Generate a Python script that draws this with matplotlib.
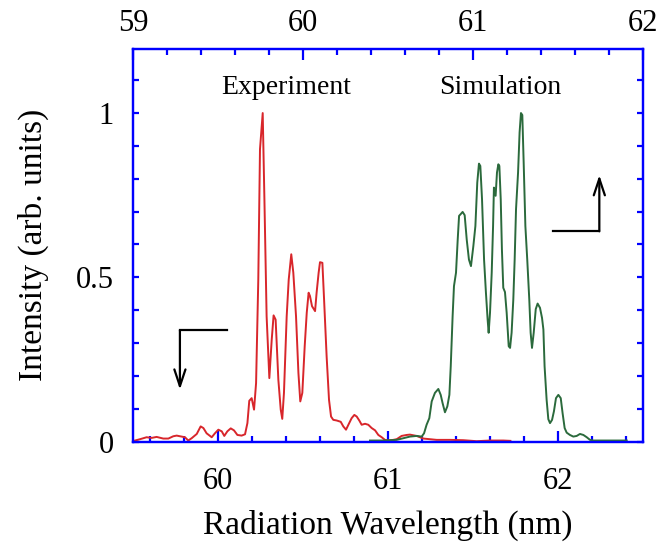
import matplotlib
matplotlib.use("Agg")
import matplotlib.pyplot as plt
from matplotlib.ticker import MultipleLocator

plt.rcParams['font.family'] = ['Liberation Serif', 'DejaVu Serif']

# experiment, bottom axis (nm)
exp_wl = [59.512, 59.541, 59.580, 59.610, 59.639, 59.678, 59.708, 59.737, 59.757, 59.786,
          59.806, 59.825, 59.845, 59.875, 59.898, 59.914, 59.933, 59.963, 59.982, 60.002,
          60.022, 60.037, 60.055, 60.075, 60.094, 60.114, 60.139, 60.159, 60.173, 60.184,
          60.198, 60.212, 60.224, 60.237, 60.247, 60.263, 60.273, 60.286, 60.302, 60.316,
          60.327, 60.339, 60.355, 60.369, 60.378, 60.388, 60.404, 60.416, 60.431, 60.443,
          60.459, 60.473, 60.484, 60.496, 60.510, 60.522, 60.533, 60.541, 60.553, 60.571,
          60.580, 60.592, 60.600, 60.614, 60.624, 60.639, 60.653, 60.665, 60.678, 60.698,
          60.722, 60.737, 60.753, 60.767, 60.786, 60.802, 60.816, 60.831, 60.845, 60.865,
          60.884, 60.904, 60.924, 60.943, 60.963, 60.982, 61.002, 61.031, 61.051, 61.080,
          61.110, 61.129, 61.168, 61.208, 61.286, 61.365, 61.443, 61.521, 61.600, 61.678,
          61.720]
exp_int = [0.003, 0.007, 0.013, 0.011, 0.014, 0.009, 0.009, 0.016, 0.018, 0.015,
           0.013, 0.003, 0.010, 0.023, 0.046, 0.041, 0.025, 0.013, 0.025, 0.036,
           0.031, 0.017, 0.031, 0.040, 0.034, 0.020, 0.018, 0.022, 0.056, 0.124,
           0.132, 0.097, 0.178, 0.493, 0.890, 1.000, 0.738, 0.381, 0.193, 0.310,
           0.384, 0.371, 0.188, 0.097, 0.069, 0.148, 0.381, 0.493, 0.570, 0.514,
           0.381, 0.209, 0.122, 0.148, 0.290, 0.392, 0.453, 0.443, 0.412, 0.397,
           0.453, 0.514, 0.546, 0.544, 0.432, 0.259, 0.127, 0.076, 0.066, 0.064,
           0.060, 0.046, 0.036, 0.051, 0.071, 0.081, 0.076, 0.064, 0.051, 0.054,
           0.051, 0.041, 0.034, 0.020, 0.013, 0.005, 0.003, 0.005, 0.007, 0.017,
           0.020, 0.021, 0.017, 0.009, 0.005, 0.005, 0.004, 0.001, 0.003, 0.003,
           0.002]

# simulation, top axis (nm)
sim_wl = [60.394, 60.472, 60.551, 60.590, 60.629, 60.669, 60.698, 60.712, 60.727, 60.743,
          60.757, 60.776, 60.796, 60.810, 60.821, 60.835, 60.849, 60.861, 60.869, 60.880,
          60.888, 60.900, 60.910, 60.918, 60.927, 60.939, 60.951, 60.963, 60.976, 60.988,
          61.002, 61.014, 61.025, 61.035, 61.043, 61.053, 61.065, 61.076, 61.086, 61.092,
          61.100, 61.110, 61.118, 61.123, 61.133, 61.141, 61.149, 61.155, 61.163, 61.170,
          61.178, 61.188, 61.198, 61.210, 61.218, 61.227, 61.237, 61.245, 61.253, 61.265,
          61.274, 61.282, 61.290, 61.298, 61.308, 61.319, 61.331, 61.339, 61.347, 61.357,
          61.369, 61.380, 61.394, 61.406, 61.414, 61.421, 61.433, 61.443, 61.453, 61.465,
          61.476, 61.488, 61.502, 61.516, 61.527, 61.539, 61.551, 61.570, 61.590, 61.610,
          61.629, 61.649, 61.669, 61.688, 61.708, 61.747, 61.825, 61.904]
sim_int = [0.003, 0.003, 0.005, 0.010, 0.015, 0.017, 0.015, 0.025, 0.051, 0.071,
           0.122, 0.148, 0.160, 0.142, 0.117, 0.089, 0.107, 0.142, 0.229, 0.381,
           0.473, 0.514, 0.615, 0.687, 0.692, 0.699, 0.689, 0.615, 0.554, 0.534,
           0.595, 0.656, 0.788, 0.846, 0.839, 0.738, 0.554, 0.453, 0.371, 0.331,
           0.392, 0.514, 0.656, 0.773, 0.748, 0.819, 0.844, 0.839, 0.738, 0.585,
           0.468, 0.455, 0.392, 0.290, 0.285, 0.331, 0.432, 0.554, 0.707, 0.819,
           0.941, 1.000, 0.994, 0.849, 0.656, 0.554, 0.432, 0.331, 0.285, 0.331,
           0.403, 0.420, 0.407, 0.376, 0.341, 0.229, 0.127, 0.068, 0.056, 0.066,
           0.092, 0.132, 0.142, 0.132, 0.086, 0.041, 0.027, 0.020, 0.015, 0.017,
           0.023, 0.020, 0.013, 0.005, 0.003, 0.003, 0.003, 0.003]

BLUE = '#0000ff'
RED = '#d8262b'
GREEN = '#2b6a3c'


def style_axis(ax):
    for side in ax.spines.values():
        side.set_color(BLUE)
        side.set_linewidth(1.6)
    ax.tick_params(which='both', direction='in', color=BLUE, width=1.6, labelsize=22)


fig = plt.figure(figsize=(6.71, 5.42), dpi=100)
ax = fig.add_axes([0.1982, 0.1854, 0.7601, 0.7242])

ax.plot(exp_wl, exp_int, color=RED, lw=1.4)
ax.set_xlim(59.5, 62.5)
ax.set_ylim(0, 1.195)
ax.xaxis.set_major_locator(MultipleLocator(1))
ax.xaxis.set_minor_locator(MultipleLocator(0.2))
ax.yaxis.set_minor_locator(MultipleLocator(0.1))
ax.set_yticks([0, 0.5, 1])
ax.set_yticklabels(['0', '0.5', '1'])
style_axis(ax)
ax.tick_params(axis='x', which='major', length=8, pad=18)
ax.tick_params(axis='x', which='minor', length=4.5)
ax.tick_params(axis='y', which='both', length=4.5, right=True, pad=14)
ax.set_xlabel("Radiation Wavelength (nm)", fontsize=24, labelpad=10)
ax.set_ylabel("Intensity (arb. units)", fontsize=24, labelpad=19)

top = ax.twiny()
top.plot(sim_wl, sim_int, color=GREEN, lw=1.4)
top.set_xlim(59, 62)
top.xaxis.set_major_locator(MultipleLocator(1))
top.xaxis.set_minor_locator(MultipleLocator(0.2))
style_axis(top)
top.tick_params(axis='x', which='major', length=8, pad=8)
top.tick_params(axis='x', which='minor', length=4.5)

ax.text(60.4, 1.078, "Experiment", fontsize=20, ha='center', va='center')
ax.text(61.66, 1.078, "Simulation", fontsize=20, ha='center', va='center')

# L-shaped arrows telling which axis belongs to which curve
ax.plot([60.051, 59.776], [0.339, 0.339], color='black', lw=1.6)
ax.annotate("", xy=(59.776, 0.158), xytext=(59.776, 0.339),
            arrowprops=dict(arrowstyle='->,head_length=1.2,head_width=0.4', color='black', lw=1.6,
                            shrinkA=0, shrinkB=0))
ax.plot([61.972, 62.243], [0.640, 0.640], color='black', lw=1.6)
ax.annotate("", xy=(62.243, 0.811), xytext=(62.243, 0.640),
            arrowprops=dict(arrowstyle='->,head_length=1.2,head_width=0.4', color='black', lw=1.6,
                            shrinkA=0, shrinkB=0))

fig.savefig("out.png", dpi=100)
